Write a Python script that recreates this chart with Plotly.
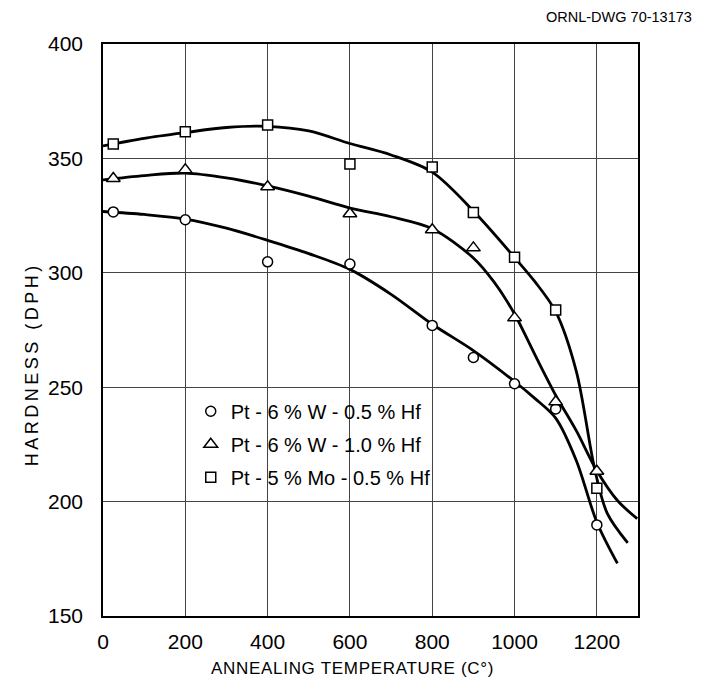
import plotly.graph_objects as go

# ---- data ----
temp_pts = [25, 200, 400, 600, 800, 900, 1000, 1100, 1200]
hard_w05 = [326.6, 323.2, 304.8, 303.8, 277.0, 263.0, 251.5, 240.5, 189.8]
hard_w10 = [341.2, 345.0, 337.6, 325.8, 318.8, 310.9, 280.3, 243.6, 213.3]
hard_mo05 = [356.3, 361.6, 364.6, 347.5, 346.2, 326.4, 306.8, 283.7, 205.8]

# smooth fitted curves as drawn in the reference
fit_w05_x = [0, 100, 200, 300, 400, 500, 600, 700, 800, 900, 1000, 1050, 1100, 1150, 1200, 1250]
fit_w05_y = [326.8, 325.5, 323.5, 319.5, 314.2, 308.4, 301.5, 290.6, 277.5, 266.0, 252.5, 245.0, 236.5, 218.0, 191.0, 173.0]
fit_w10_x = [0, 100, 200, 300, 400, 500, 600, 700, 800, 900, 950, 1000, 1050, 1100, 1150, 1200, 1250, 1298]
fit_w10_y = [340.6, 342.5, 343.6, 341.5, 338.0, 333.5, 328.3, 324.5, 319.3, 306.5, 296.0, 282.0, 264.0, 246.5, 231.0, 213.5, 200.5, 192.5]
fit_mo_x = [0, 100, 200, 300, 400, 500, 600, 700, 800, 900, 1000, 1050, 1100, 1150, 1195, 1225, 1275]
fit_mo_y = [355.5, 358.8, 361.3, 363.5, 364.0, 362.0, 356.5, 351.5, 344.0, 327.0, 306.7, 296.0, 283.0, 257.0, 214.0, 195.0, 182.0]

names = ["Pt - 6 % W - 0.5 % Hf", "Pt - 6 % W - 1.0 % Hf", "Pt - 5 % Mo - 0.5 % Hf"]
symbols = ["circle", "triangle-up", "square"]

x_ticks = [0, 200, 400, 600, 800, 1000, 1200]
y_ticks = [150, 200, 250, 300, 350, 400]

FONT = "Liberation Sans"
fig = go.Figure()

for fx, fy in [(fit_w05_x, fit_w05_y), (fit_w10_x, fit_w10_y), (fit_mo_x, fit_mo_y)]:
    fig.add_trace(go.Scatter(x=fx, y=fy, mode="lines", showlegend=False,
                             line=dict(color="black", width=2.8, shape="spline", smoothing=0.9),
                             hoverinfo="skip"))

for i, (yy, nm, sym) in enumerate(zip([hard_w05, hard_w10, hard_mo05], names, symbols)):
    fig.add_trace(go.Scatter(x=temp_pts, y=yy, mode="markers", name=nm,
                             legendgroup=f"g{i}",
                             marker=dict(symbol=sym, size=10 if i != 1 else 12,
                                         color="white",
                                         line=dict(color="black", width=1.5))))


def spaced(t, ls):
    return f'<span style="letter-spacing:{ls}px">{t}</span>'


fig.update_layout(
    width=704, height=680,
    margin=dict(l=95, r=74, t=36, b=72),
    paper_bgcolor="white", plot_bgcolor="white",
    font=dict(family=FONT, color="black", size=18),
    showlegend=True,
    legend=dict(x=0.164, y=0.392, xanchor="left", yanchor="top",
                bgcolor="rgba(0,0,0,0)", font=dict(size=20, family=FONT),
                tracegroupgap=4, itemwidth=30),
    xaxis=dict(range=[0, 1300], tickvals=x_ticks, ticktext=[str(v) for v in x_ticks],
               showgrid=True, gridcolor="#444", gridwidth=1,
               showline=True, mirror=True, linecolor="black", linewidth=1.5,
               zeroline=False, ticks="", ticklabelstandoff=6,
               tickfont=dict(size=21, family=FONT)),
    yaxis=dict(range=[150, 400], tickvals=y_ticks, ticktext=[str(v) for v in y_ticks],
               showgrid=True, gridcolor="#444", gridwidth=1,
               showline=True, mirror=True, linecolor="black", linewidth=1.5,
               zeroline=False, ticks="", ticklabelstandoff=14,
               tickfont=dict(size=21, family=FONT)),
    annotations=[
        dict(text=spaced("ANNEALING TEMPERATURE (C°)", 0.7), xref="paper", yref="paper",
             x=0.467, y=-0.091, xanchor="center", yanchor="middle", showarrow=False,
             font=dict(size=17, family=FONT)),
        dict(text=spaced("HARDNESS (DPH)", 3.5), xref="paper", yref="paper", textangle=-90,
             x=-0.133, y=0.44, xanchor="center", yanchor="middle", showarrow=False,
             font=dict(size=18, family=FONT)),
        dict(text="ORNL-DWG 70-13173", xref="paper", yref="paper",
             x=1.105, y=1.047, xanchor="right", yanchor="middle", showarrow=False,
             font=dict(size=14.5, family=FONT)),
    ],
)

fig.write_html("out.html")
